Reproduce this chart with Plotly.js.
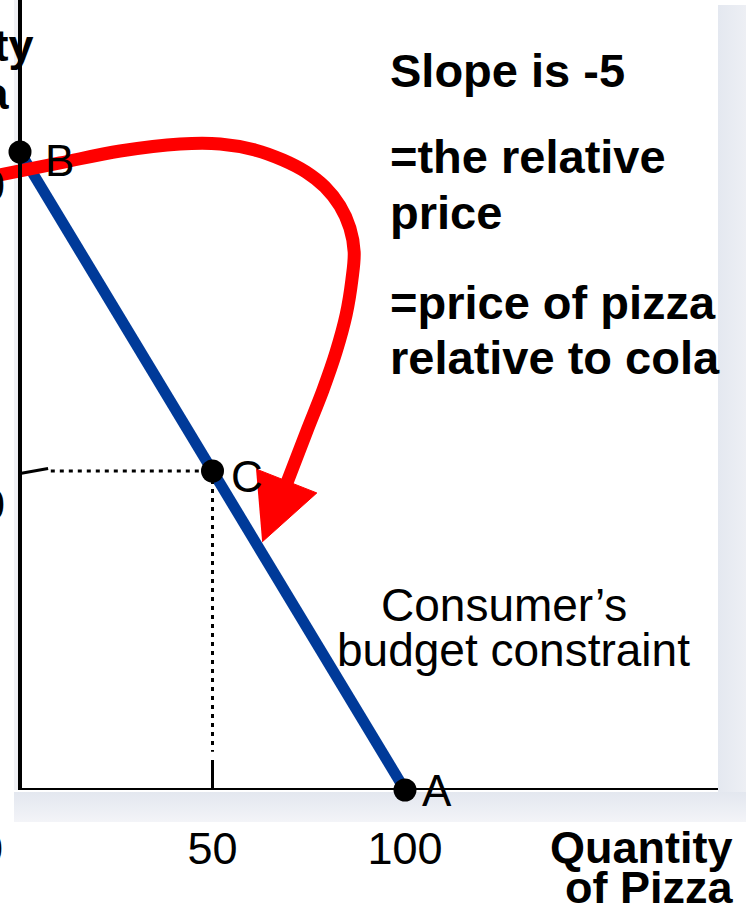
<!DOCTYPE html>
<html>
<head>
<meta charset="utf-8">
<script src="https://cdn.plot.ly/plotly-3.0.1.min.js"></script>
<style>
  html, body { margin: 0; padding: 0; background: #ffffff; }
  #wrap { position: relative; width: 746px; height: 913px; overflow: hidden; }
  .shade { position: absolute; }
  /* soft drop shadow along the right and bottom of the diagram panel */
  #shadeR { left: 718px; top: 5px; width: 28px; height: 817px;
            background: linear-gradient(to right, #e4e8f0, #edeff4); }
  #shadeB { left: 14px; top: 792px; width: 732px; height: 30px;
            background: linear-gradient(to bottom, #e3e7ef, #f3f4f8); }
  #chart { position: absolute; left: 0; top: 0; width: 746px; height: 913px; }
</style>
</head>
<body>
<div id="wrap">
  <div class="shade" id="shadeR"></div>
  <div class="shade" id="shadeB"></div>
  <div id="chart"></div>
</div>
<script>
// Budget constraint: all cola (B) to all pizza (A)
const budgetPizza = [0, 100];
const budgetCola = [500, 0];

// Labelled bundles on the constraint
const pointNames = ['B', 'C', 'A'];
const pointPizza = [0, 50, 100];
const pointCola = [500, 250, 0];

// Axis ticks
const xTickVals = [50, 100];
const xTickText = ['50', '100'];
const yTickVals = [250, 500];
const yTickText = ['250', '500'];

// Curved red arrow sweeping from B down toward C (pizza, cola units)
const arrowPathPizza = [-6, 10.4, 26.0, 41.6, 52.0, 61.0, 68.3, 74.3, 79.2, 83.1, 85.7, 86.8, 86.2, 84.7, 82.1, 78.7, 74.6, 69.1];
const arrowPathCola = [481.5, 491.4, 500.8, 506.3, 506.3, 501.6, 493.7, 484.3, 472.6, 457.7, 440.4, 421.6, 399.7, 372.3, 343.3, 313.5, 282.1, 239.0];
const arrowHeadPizza = [61.3, 77.1, 62.9];
const arrowHeadCola = [251.6, 232.8, 194.4];

// Text blocks
const slopeNote = 'Slope is -5';
const relLines = ['=the relative', 'price'];
const priceLines = ['=price of pizza', 'relative to cola'];
const budgetLines = ['Consumer\u2019s', 'budget constraint'];
const xTitleLines = ['Quantity', 'of Pizza'];
const yTitleLines = ['Quantity', 'of Cola'];

// ---- geometry of the panel (pixels) ----
const W = 746, H = 913;
const mL = 0, mR = 28, mT = 0, mB = 123;
const plotW = W - mL - mR, plotH = H - mT - mB;   // 718 x 790
const originPx = 20;          // pixel column of the cola axis
const pxPerPizza = 3.85;
const pxPerCola = 1.276;
const xRange = [-originPx / pxPerPizza, (plotW - originPx) / pxPerPizza];
const yRange = [0, plotH / pxPerCola];

const FONT = '"Liberation Sans", Arial, Helvetica, sans-serif';
const px = v => v / plotW;                 // pixel x -> paper x
const py = v => (plotH - v) / plotH;       // pixel y -> paper y

const cx = pointPizza[1], cy = pointCola[1];

const traces = [
  { // budget line
    x: budgetPizza, y: budgetCola, mode: 'lines', hoverinfo: 'skip',
    line: { color: '#003a99', width: 11 }
  },
  { // dotted guides from C to both axes
    x: [8, cx, null, cx, cx], y: [cy, cy, null, cy, 30], mode: 'lines', hoverinfo: 'skip',
    line: { color: '#000000', width: 3, dash: '4px,5px' }
  },
  { // short solid tick strokes at the axes
    x: [0, 7.3, null, cx, cx], y: [cy - 2, cy + 2, null, 0, 23.5], mode: 'lines', hoverinfo: 'skip',
    line: { color: '#000000', width: 3 }
  },
  { // red arrow shaft
    x: arrowPathPizza, y: arrowPathCola, mode: 'lines', hoverinfo: 'skip',
    line: { color: '#ff0000', width: 13, shape: 'spline', smoothing: 1 }
  },
  { // red arrow head
    x: arrowHeadPizza, y: arrowHeadCola, mode: 'lines', fill: 'toself', hoverinfo: 'skip',
    fillcolor: '#ff0000', line: { color: '#ff0000', width: 1 }
  },
  { // bundle points
    x: pointPizza, y: pointCola, mode: 'markers', hoverinfo: 'skip', cliponaxis: false,
    marker: { color: '#000000', size: 23 }
  }
];

const pointLabelShift = [[23, -8], [16, -5], [15, 0]];
const annotations = [];
pointNames.forEach((n, i) => {
  annotations.push({
    x: pointPizza[i], y: pointCola[i], xref: 'x', yref: 'y', text: n, showarrow: false,
    xanchor: 'left', yanchor: 'middle', xshift: pointLabelShift[i][0], yshift: pointLabelShift[i][1],
    font: { family: FONT, size: 44, color: '#000000' }
  });
});

function textAt(t, xPx, yPx, anchor, bold, size) {
  annotations.push({
    x: px(xPx), y: py(yPx), xref: 'paper', yref: 'paper', text: bold ? '<b>' + t + '</b>' : t,
    showarrow: false, xanchor: anchor, yanchor: 'middle',
    font: { family: FONT, size: size, color: '#000000' }
  });
}

textAt(slopeNote, 388, 70, 'left', true, 47);
textAt(relLines[0], 388, 157, 'left', true, 47);
textAt(relLines[1], 388, 212, 'left', true, 47);
textAt(priceLines[0], 388, 302, 'left', true, 47);
textAt(priceLines[1], 388, 357, 'left', true, 47);
textAt(budgetLines[0], 504, 605, 'center', false, 46);
textAt(budgetLines[1], 513, 650, 'center', false, 46);
textAt(xTitleLines[0], 735, 847, 'right', true, 45);
textAt(xTitleLines[1], 735, 887, 'right', true, 45);
textAt(yTitleLines[0], 36, 46, 'right', true, 45);
textAt(yTitleLines[1], 11, 94, 'right', true, 45);
textAt('0', 5, 848, 'right', false, 45);

const layout = {
  width: W, height: H,
  margin: { l: mL, r: mR, t: mT, b: mB, pad: 0 },
  paper_bgcolor: 'rgba(0,0,0,0)',
  plot_bgcolor: '#ffffff',
  showlegend: false,
  xaxis: {
    range: xRange, showgrid: false, zeroline: false, showline: false,
    tickmode: 'array', tickvals: xTickVals, ticktext: xTickText, ticks: '',
    ticklabelstandoff: 28,
    tickfont: { family: FONT, size: 45, color: '#000000' }, fixedrange: true
  },
  yaxis: {
    range: yRange, showgrid: false, zeroline: false,
    anchor: 'free', position: originPx / plotW,
    showline: true, linecolor: '#000000', linewidth: 4,
    tickmode: 'array', tickvals: yTickVals, ticktext: yTickText, ticks: '',
    ticklabelshift: 33, ticklabelstandoff: 4,
    tickfont: { family: FONT, size: 45, color: '#000000' }, fixedrange: true
  },
  shapes: [
    { type: 'rect', xref: 'paper', yref: 'paper', x0: px(14), x1: px(18), y0: 0, y1: 1,
      fillcolor: '#f0f1f5', line: { width: 0 }, layer: 'below' },
    { type: 'line', xref: 'x', yref: 'y', x0: -0.5, x1: xRange[1], y0: 0, y1: 0,
      line: { color: '#000000', width: 4 } }
  ],
  annotations: annotations
};

Plotly.newPlot('chart', traces, layout, { staticPlot: true, displayModeBar: false });
</script>
</body>
</html>
